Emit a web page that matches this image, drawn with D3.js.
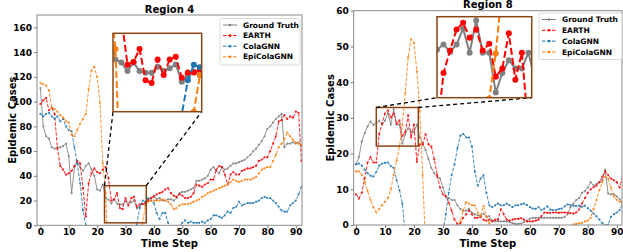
<!DOCTYPE html>
<html>
<head>
<meta charset="utf-8">
<script src="https://cdn.jsdelivr.net/npm/d3@7"></script>
<style>
  body { margin: 0; background: #fff; }
  text { font-family: "DejaVu Sans", sans-serif; font-weight: bold; }
</style>
</head>
<body>
<svg id="chart" width="623" height="252"></svg>
<script>
// time steps 0..92
const steps = d3.range(0, 93)
const xTicks = [0, 10, 20, 30, 40, 50, 60, 70, 80, 90]
const seriesNames = ['Ground Truth', 'EARTH', 'ColaGNN', 'EpiColaGNN']
const seriesColors = ['#808080', '#ff0000', '#1f77b4', '#ff7f0e']

// Region 4
const ticks4 = [0, 20, 40, 60, 80, 100, 120, 140, 160]
const gt4 = [111, 80, 72, 70, 63, 62, 63, 63, 64, 66,
  56, 26, 47, 51, 47, 44, 48, 50, 45, 40, 29, 28, 33,
  22, 20.8, 17.6, 20.8, 17.6, 16.9, 16.9, 19.2, 17.6, 18.6, 20.1, 13.5, 15.4, 17.3, 16,
  21, 22, 24, 21, 22, 20, 20, 21, 21, 20, 22, 26,
  27, 27, 28, 29, 30, 36, 36, 37, 38, 40,
  45, 47, 44, 42, 47, 45, 46, 48, 50, 50,
  51, 52, 53, 55, 57, 60, 62, 65, 68, 72,
  78, 80, 83, 86, 88, 90, 63, 66, 66, 67,
  66, 67, 64]
const earth4 = [98, 101, 103, 93, 95, 90, 62, 48, 45, 41,
  42, 44, 48, 52, 50, 30, 7, 34, 42, 46, 43, 42, 45, 47, 38,
  20, 21, 26, 14, 13, 22, 16, 22, 23, 15, 17, 17, 18,
  20, 22, 23, 25, 26, 27, 29, 30, 26, 24, 23, 25,
  24, 22, 22, 23, 26, 33, 32, 31, 33, 34,
  37, 37, 45, 48, 47, 41, 33, 41, 43, 41,
  41, 44, 45, 46, 46, 47, 48, 52, 53, 55,
  55, 60, 66, 72, 84, 85, 89, 86, 88, 87,
  92, 91, 52]
const cola4 = [90, 88, 90, 91, 88, 86, 88, 84, 86, 80, 77, 76, 63, 50, 34, 12, 0,
  -8, -12, -15, -15, -12, -14, -16, -14, -12, -10, -12, -10, -9, -8, -6, -5, -4,
  1, 14, 20, 19,
  22, 20, 18, 10, 5, 10, 10, 2, -2, -4, -3, -1,
  2, 4, 2, 3, 2, 2, 2, 3, 2, 4,
  5, 8, 8, 7, 6, 8, 11, 10, 14, 15,
  19, 16, 17, 18, 18, 18, 19, 20, 22, 23,
  22, 22, 20, 18, 15, 12, 11, 11, 16, 18,
  20, 25, 31]
const epi4 = [115, 114, 113, 109, 95, 94, 92, 89, 87, 84,
  83, 73, 72, 77, 82, 86, 90, 110, 125, 128, 120, 99, 50, 26,
  -35, -40, -35, -30, -25, -20, -18, -15, -12, -10, -8, -4, 2,
  16, 19, 20, 20, 20, 20, 21, 20, 19, 17, 13, 14, 16,
  17, 17, 17, 18, 19, 20, 21, 23, 24, 26,
  27, 28, 29, 30, 31, 32, 33, 35, 37, 36,
  35, 36, 37, 37, 37, 38, 39, 42, 45, 46,
  47, 47, 52, 57, 63, 66, 70, 75, 72, 69,
  67, 66, 65]

// Region 8
const ticks8 = [0, 10, 20, 30, 40, 50, 60]
const gt8 = [17, 19, 23.4, 25.7, 27.6, 29, 28, 28.5,
  29.2, 28.2, 29.2, 31.3, 28.1, 32.4, 28.1, 28.1, 22.8, 25.4, 27.1, 26, 26, 28.1,
  24.5, 23, 21, 18.5, 16, 14.5, 13.5, 13, 10.5, 8,
  7.5, 7, 7, 5.5, 4.5, 4, 4, 4.5, 3.5, 3,
  2.7, 2.6, 3.2, 2.3, 2.5, 1.2, 1, 1, 1, 1,
  1, 0.8, 0.5, 0.3, 0.3, 0.4, 0.8, 1.2, 1.8, 2,
  2, 2, 2, 2, 2, 2, 2, 2, 2, 2,
  2.3, 3, 5, 6, 7, 7.5, 9, 9.5, 10.5, 12,
  11, 11.5, 12, 12.5, 15.5, 8.8, 8.6, 8.6, 8, 7.2, 6.3]
const earth8 = [8.6, 7.4, 9, 13, 17.5, 19, 17.5, 17.5,
  25.4, 28.4, 31.2, 32.1, 30.1, 31.2, 28.4, 29.3, 24.9, 26, 30.7, 24.5, 28.1,
  17.7, 22.6, 22.5, 25.4, 22.6, 22, 18.4, 14, 10.5, 8.6,
  8, 6.3, 4, 1.5, 0.3, 0.5, 2, 3, 4, 3,
  2, 2, 2.3, 1.5, 1.2, 1.5, 1, 1.5, 1.5, 4.4,
  3, 1.5, 1.2, 1.5, 1.7, 1.7, 1.9, 1.5, 1, 1,
  1, 1.2, 1.5, 2.5, 3.5, 3.4, 3.4, 3.5, 3.5, 3.4,
  3.5, 3.5, 3.4, 3.3, 3.2, 3.5, 4.4, 6, 7.5, 9,
  10, 10.5, 11, 12, 13.5, 15, 14, 13, 12.5, 12, 10.5, 13.7]
const cola8 = [17, 17.2, 16.6, 15.5, 14.5, 13.8, 13.6, 14.9, 16.6, 17.2, 17.4, 17.5, 16.5, 16, 12.6, 9.8, 6,
  -3, -8, -12, -15, -16, -16, -15, -14, -12, -10, -8, -6, -4, -2,
  3, 9, 14, 17, 21.5, 25, 25.5, 24.5, 24.5, 22,
  15, 11, 13, 14, 9, 5.5, 5, 5.5, 6, 5.5,
  5.5, 6, 5.5, 5, 5.5, 5.5, 5.8, 6, 5.6, 5,
  4.6, 4.5, 5, 4.2, 4.6, 5.2, 4.3, 4.2, 4.2, 4.5,
  4.6, 5.2, 5.8, 5.6, 5.4, 5.3, 5.4, 5.1, 5.4, 4.7,
  4, 3.2, 2.4, 1.5, 0.5, 0, 0, 2.3, 3, 3.5, 4.2, 6]
const epi8 = [15, 15, 14, 12, 9.5, 7, 5, 3.5, 4.5, 5.5, 6.5, 7.5,
  10, 14, 18, 22, 28, 37, 47, 52, 51, 43, 32, 14, -6,
  -15, -20, -20, -18, -15, -12, -10, -8, -6, -4, -1,
  1, 4, 6.4, 6, 5.5, 5.5, 3.5, 2.6, 5.3, 2.5, 0.5,
  -2, -3, -3, -4, -4, -4, -3, -3, -3, -3, -3, -3, -3, -3,
  -3, -3, -3, -3, -3, -3, -2, -2, -2, -2, -2, -2, -1, -0.5,
  0.2, 0.3, 0.5, 0.6, 1, 1.2, 2, 4.5, 7, 9.8, 12, 13.5, 13, 10.5, 8, 7, 6.5, 5.5]

const svg = d3.select('#chart')
const brown = '#8b4513'

function drawSeries(g, x, y, data, lw, r, dash, op) {
  data.forEach((vals, i) => {
    const pts = steps.map((t, k) => [t, vals[k]])
    g.append('path').datum(pts)
      .attr('d', d3.line().x(d => x(d[0])).y(d => y(d[1])))
      .attr('fill', 'none')
      .attr('stroke', seriesColors[i])
      .attr('stroke-width', lw)
      .attr('stroke-dasharray', i === 0 ? null : dash)
      .attr('opacity', op)
    g.selectAll(null).data(pts).enter().append('circle')
      .attr('cx', d => x(d[0]))
      .attr('cy', d => y(d[1]))
      .attr('r', r)
      .attr('fill', seriesColors[i])
      .attr('opacity', op)
  })
}

function panel(cfg) {
  const x = d3.scaleLinear().domain(cfg.xdom).range([cfg.left, cfg.right])
  const y = d3.scaleLinear().domain(cfg.ydom).range([cfg.bottom, cfg.top])
  const g = svg.append('g')

  g.append('clipPath').attr('id', cfg.id + 'clip').append('rect')
    .attr('x', cfg.left).attr('y', cfg.top)
    .attr('width', cfg.right - cfg.left).attr('height', cfg.bottom - cfg.top)

  const xa = g.append('g').attr('transform', `translate(0,${cfg.bottom})`)
    .call(d3.axisBottom(x).tickValues(xTicks).tickSize(3).tickPadding(0.5))
  const ya = g.append('g').attr('transform', `translate(${cfg.left},0)`)
    .call(d3.axisLeft(y).tickValues(cfg.yticks).tickSize(3).tickPadding(2))
  for (const a of [xa, ya]) {
    a.select('.domain').remove()
    a.selectAll('.tick line').attr('stroke', '#555').attr('stroke-width', 0.8)
    a.selectAll('.tick text').attr('font-size', 9).attr('fill', '#000')
      .attr('font-family', '"DejaVu Sans", sans-serif').attr('font-weight', 'bold')
  }

  const plot = g.append('g').attr('clip-path', `url(#${cfg.id}clip)`)
  drawSeries(plot, x, y, cfg.data, 1, 1.1, '3.5,1.5', 0.85)

  g.append('rect')
    .attr('x', cfg.left).attr('y', cfg.top)
    .attr('width', cfg.right - cfg.left).attr('height', cfg.bottom - cfg.top)
    .attr('fill', 'none').attr('stroke', '#8a8a8a').attr('stroke-width', 1)

  // titles and labels
  g.append('text').text(cfg.title)
    .attr('x', (cfg.left + cfg.right) / 2).attr('y', cfg.titleY)
    .attr('text-anchor', 'middle').attr('font-size', 10)
  g.append('text').text('Time Step')
    .attr('x', (cfg.left + cfg.right) / 2).attr('y', 247)
    .attr('text-anchor', 'middle').attr('font-size', 10)
  g.append('text').text('Epidemic Cases')
    .attr('transform', `translate(${cfg.ylabX},${(cfg.top + cfg.bottom) / 2}) rotate(-90)`)
    .attr('text-anchor', 'middle').attr('font-size', 10)

  // legend
  const L = cfg.legend
  const lg = g.append('g')
  lg.append('rect').attr('x', L.x).attr('y', L.y).attr('width', L.w).attr('height', L.h)
    .attr('rx', 2).attr('fill', '#fff').attr('fill-opacity', 0.85)
    .attr('stroke', '#d0d0d0').attr('stroke-width', 0.8)
  seriesNames.forEach((name, i) => {
    const yy = L.y + 6.5 + i * L.step
    lg.append('line').attr('x1', L.x + 3).attr('x2', L.x + 17).attr('y1', yy).attr('y2', yy)
      .attr('stroke', seriesColors[i]).attr('stroke-width', 1)
      .attr('stroke-dasharray', i === 0 ? null : '3.5,1.5')
    lg.append('circle').attr('cx', L.x + 10).attr('cy', yy).attr('r', 1.3).attr('fill', seriesColors[i])
    lg.append('text').text(name).attr('x', L.x + 23).attr('y', yy + 2.6).attr('font-size', 7.5)
  })

  // zoom box, connectors and inset
  const I = cfg.inset
  const bx0 = x(I.xdom[0]), bx1 = x(I.xdom[1]), by0 = y(I.ydom[1]), by1 = y(I.ydom[0])
  g.append('rect').attr('x', bx0).attr('y', by0).attr('width', bx1 - bx0).attr('height', by1 - by0)
    .attr('fill', 'none').attr('stroke', brown).attr('stroke-width', 1.5)
  g.append('line').attr('x1', bx0).attr('y1', by0).attr('x2', I.left).attr('y2', I.bottom)
    .attr('stroke', '#000').attr('stroke-width', 1.3).attr('stroke-dasharray', '4,3')
  g.append('line').attr('x1', bx1).attr('y1', by0).attr('x2', I.right).attr('y2', I.bottom)
    .attr('stroke', '#000').attr('stroke-width', 1.3).attr('stroke-dasharray', '4,3')

  const ix = d3.scaleLinear().domain(I.xdom).range([I.left, I.right])
  const iy = d3.scaleLinear().domain(I.ydom).range([I.bottom, I.top])
  g.append('rect').attr('x', I.left).attr('y', I.top)
    .attr('width', I.right - I.left).attr('height', I.bottom - I.top).attr('fill', '#fff')
  g.append('clipPath').attr('id', cfg.id + 'iclip').append('rect')
    .attr('x', I.left).attr('y', I.top)
    .attr('width', I.right - I.left).attr('height', I.bottom - I.top)
  const ip = g.append('g').attr('clip-path', `url(#${cfg.id}iclip)`)
  drawSeries(ip, ix, iy, cfg.data, 2, 3, '7,3', 1)
  g.append('rect').attr('x', I.left).attr('y', I.top)
    .attr('width', I.right - I.left).attr('height', I.bottom - I.top)
    .attr('fill', 'none').attr('stroke', brown).attr('stroke-width', 1.5)
}

panel({
  id: 'r4', title: 'Region 4', titleY: 12.7,
  left: 37, right: 302, top: 15, bottom: 225.3,
  xdom: [-1.2, 92.2], ydom: [0, 170], yticks: ticks4, ylabX: 15.5,
  data: [gt4, earth4, cola4, epi4],
  legend: { x: 220, y: 18.5, w: 80, h: 46.5, step: 10.6 },
  inset: { left: 113, right: 201.7, top: 33.3, bottom: 111.7, xdom: [22.6, 37.3], ydom: [2, 32] }
})

panel({
  id: 'r8', title: 'Region 8', titleY: 8.3,
  left: 353.7, right: 622, top: 10.7, bottom: 225,
  xdom: [-0.8, 91.8], ydom: [0, 60], yticks: ticks8, ylabX: 333.5,
  data: [gt8, earth8, cola8, epi8],
  legend: { x: 539, y: 13, w: 83, h: 46.5, step: 10.8 },
  inset: { left: 437, right: 531.7, top: 16.7, bottom: 97.7, xdom: [7, 21.5], ydom: [22.1, 32.9] }
})
</script>
</body>
</html>
